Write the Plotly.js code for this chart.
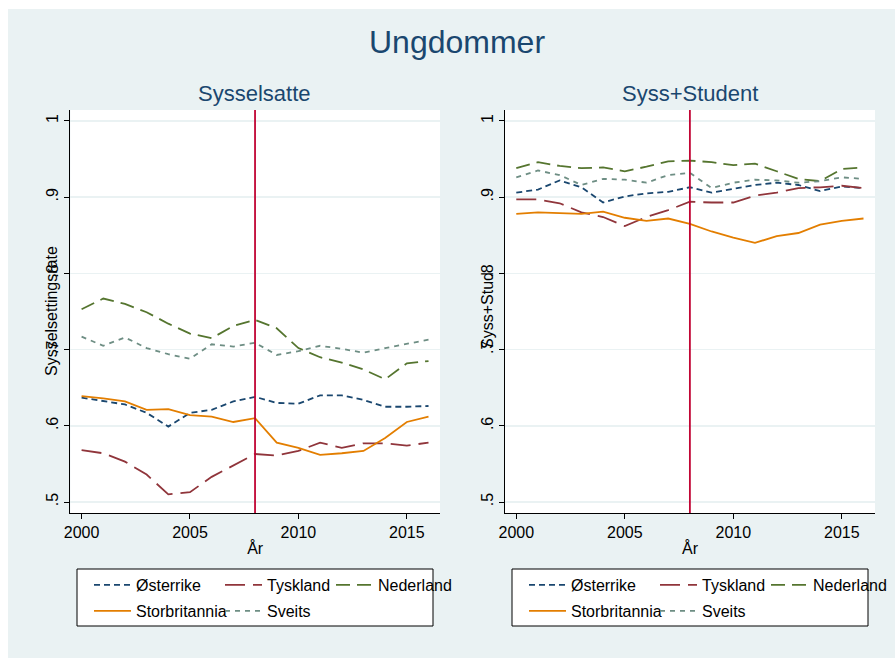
<!DOCTYPE html>
<html>
<head>
<meta charset="utf-8">
<script src="https://cdn.plot.ly/plotly-3.0.1.min.js"></script>
<style>html,body{margin:0;padding:0;background:#fff;}#chart{width:895px;height:658px;}</style>
</head>
<body>
<div id="chart"></div>
<script>
// ---- data ----
const years = [2000,2001,2002,2003,2004,2005,2006,2007,2008,2009,2010,2011,2012,2013,2014,2015,2016];
const countries = ["Østerrike","Tyskland","Nederland","Storbritannia","Sveits"];

const ost_syss = [0.637,0.632,0.628,0.617,0.599,0.617,0.621,0.632,0.638,0.630,0.629,0.640,0.640,0.634,0.625,0.625,0.626];
const tys_syss = [0.568,0.564,0.553,0.536,0.510,0.513,0.533,0.548,0.563,0.561,0.567,0.578,0.571,0.577,0.577,0.574,0.578];
const ned_syss = [0.753,0.767,0.760,0.749,0.734,0.721,0.715,0.731,0.739,0.728,0.702,0.690,0.683,0.674,0.661,0.682,0.685];
const stb_syss = [0.639,0.636,0.632,0.621,0.622,0.614,0.612,0.605,0.610,0.578,0.571,0.562,0.564,0.567,0.584,0.605,0.612];
const sve_syss = [0.717,0.705,0.716,0.702,0.694,0.688,0.707,0.704,0.709,0.693,0.698,0.705,0.701,0.696,0.702,0.707,0.713];

const ost_stud = [0.906,0.910,0.922,0.913,0.893,0.901,0.905,0.907,0.913,0.906,0.911,0.916,0.919,0.916,0.908,0.914,0.912];
const tys_stud = [0.897,0.897,0.892,0.880,0.874,0.862,0.874,0.883,0.894,0.893,0.893,0.902,0.906,0.912,0.913,0.915,0.912];
const ned_stud = [0.938,0.946,0.941,0.938,0.939,0.934,0.940,0.947,0.948,0.946,0.942,0.944,0.934,0.924,0.921,0.937,0.939];
const stb_stud = [0.878,0.880,0.879,0.878,0.881,0.873,0.869,0.872,0.865,0.855,0.847,0.840,0.849,0.853,0.864,0.869,0.872];
const sve_stud = [0.926,0.935,0.929,0.916,0.924,0.923,0.919,0.929,0.932,0.912,0.919,0.923,0.922,0.919,0.921,0.926,0.924];

const xTickVals = [2000,2005,2010,2015];
const yTickVals = [1,0.9,0.8,0.7,0.6,0.5];
const yTickText = ["1",".9",".8",".7",".6",".5"];
const markerYear = 2008;

const mainTitle = "Ungdommer";
const panelTitles = ["Sysselsatte","Syss+Student"];
const yTitles = ["Sysselsettingsrate","Syss+Stud"];
const xTitle = "År";

// ---- styles ----
const W = 895, H = 658;
const fx = p => p / W;
const fy = p => 1 - p / H;
const FONT = "Liberation Sans, Arial, Helvetica, sans-serif";
const NAVY = "#1a476f";
const styles = [
  {color:"#1a476f", dash:"6px,4px"},
  {color:"#90353b", dash:"20px,8px"},
  {color:"#55752f", dash:"14px,7px"},
  {color:"#e37e00", dash:"solid"},
  {color:"#6e8e84", dash:"5px,5px"}
];
const leftSeries = [ost_syss, tys_syss, ned_syss, stb_syss, sve_syss];
const rightSeries = [ost_stud, tys_stud, ned_stud, stb_stud, sve_stud];

// legend layout: text x offsets inside box, rows
const boxLeft = [77, 512];
const textOff = [59, 190, 301, 59, 190];
const rowY = [585, 585, 585, 611, 611];

const traces = [];
const legends = {};
let li = 1;
[leftSeries, rightSeries].forEach((series, p) => {
  series.forEach((vals, i) => {
    const lid = li === 1 ? "legend" : "legend" + li;
    traces.push({
      type: "scatter", mode: "lines",
      x: years, y: vals, name: countries[i],
      xaxis: p === 0 ? "x" : "x2", yaxis: p === 0 ? "y" : "y2",
      line: {color: styles[i].color, dash: styles[i].dash, width: 1.8},
      legend: lid, hoverinfo: "x+y+name"
    });
    legends[lid] = {
      x: fx(boxLeft[p] + textOff[i] - 47), y: fy(rowY[i]),
      xanchor: "left", yanchor: "middle",
      bgcolor: "rgba(0,0,0,0)", borderwidth: 0,
      font: {family: FONT, size: 16, color: "#000"},
      itemwidth: 37, orientation: "v", tracegroupgap: 0
    };
    li++;
  });
});

function xaxisDef(l, r) {
  return {
    domain: [fx(l), fx(r)], range: [1999.48, 2016.53],
    tickvals: xTickVals, ticks: "outside", ticklen: 5, tickcolor: "#000", tickwidth: 1,
    showline: true, linecolor: "#000", linewidth: 1, showgrid: false, zeroline: false,
    tickfont: {family: FONT, size: 16, color: "#000"},
    title: {text: xTitle, font: {family: FONT, size: 16, color: "#000"}, standoff: 2}
  };
}
function yaxisDef() {
  return {
    domain: [fy(513), fy(110)], range: [0.4856, 1.0144],
    tickvals: yTickVals, ticktext: yTickText, tickangle: -90,
    ticks: "outside", ticklen: 5, tickcolor: "#000", tickwidth: 1,
    showline: true, linecolor: "#000", linewidth: 1,
    showgrid: true, gridcolor: "#eaf2f3", gridwidth: 1.5, zeroline: false,
    tickfont: {family: FONT, size: 16, color: "#000"}
  };
}

const layout = Object.assign({
  width: W, height: H,
  margin: {l: 0, r: 0, t: 0, b: 0},
  paper_bgcolor: "#eaf2f3", plot_bgcolor: "#ffffff",
  showlegend: true,
  xaxis: xaxisDef(70.3, 440), yaxis: yaxisDef(),
  xaxis2: Object.assign(xaxisDef(505, 875), {anchor: "y2"}),
  yaxis2: Object.assign(yaxisDef(), {anchor: "x2"}),
  shapes: [
    {type: "rect", xref: "paper", yref: "paper", x0: 0, x1: 1, y0: fy(9), y1: 1, fillcolor: "#fff", line: {width: 0}},
    {type: "rect", xref: "paper", yref: "paper", x0: 0, x1: fx(8), y0: 0, y1: 1, fillcolor: "#fff", line: {width: 0}},
    {type: "rect", xref: "paper", yref: "paper", x0: fx(77), x1: fx(433), y0: fy(626), y1: fy(569), fillcolor: "#fff", line: {color: "#000", width: 1}, layer: "below"},
    {type: "rect", xref: "paper", yref: "paper", x0: fx(512), x1: fx(868), y0: fy(626), y1: fy(569), fillcolor: "#fff", line: {color: "#000", width: 1}, layer: "below"},
    {type: "line", xref: "x", yref: "y domain", x0: markerYear, x1: markerYear, y0: 0, y1: 1, line: {color: "#c10534", width: 1.8}},
    {type: "line", xref: "x2", yref: "y2 domain", x0: markerYear, x1: markerYear, y0: 0, y1: 1, line: {color: "#c10534", width: 1.8}}
  ],
  annotations: [
    {text: mainTitle, xref: "paper", yref: "paper", x: fx(457), y: fy(42), xanchor: "center", yanchor: "middle", showarrow: false, font: {family: FONT, size: 32, color: NAVY}},
    {text: panelTitles[0], xref: "paper", yref: "paper", x: fx(255), y: fy(94), xanchor: "center", yanchor: "middle", showarrow: false, font: {family: FONT, size: 22, color: NAVY}},
    {text: panelTitles[1], xref: "paper", yref: "paper", x: fx(690), y: fy(94), xanchor: "center", yanchor: "middle", showarrow: false, font: {family: FONT, size: 22, color: NAVY}},
    {text: yTitles[0], xref: "paper", yref: "paper", x: fx(51), y: fy(311), xanchor: "center", yanchor: "middle", textangle: -90, showarrow: false, font: {family: FONT, size: 16, color: "#000"}},
    {text: yTitles[1], xref: "paper", yref: "paper", x: fx(487), y: fy(311), xanchor: "center", yanchor: "middle", textangle: -90, showarrow: false, font: {family: FONT, size: 16, color: "#000"}}
  ]
}, legends);

Plotly.newPlot("chart", traces, layout, {displayModeBar: false, staticPlot: true});
</script>
</body>
</html>
